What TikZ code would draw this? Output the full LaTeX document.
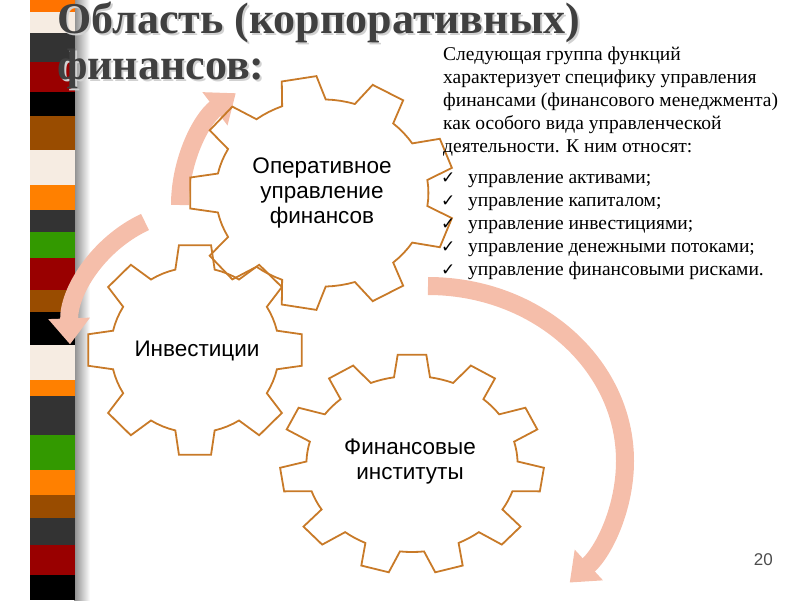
\documentclass[tikz,border=0pt]{standalone}
\usepackage{fontspec}
\setmainfont{Liberation Serif}
\newfontfamily\sansf{Liberation Sans}
\newfontfamily\dejavu{DejaVu Sans}
\usetikzlibrary{arrows.meta}
\definecolor{gearc}{RGB}{200,122,40}
\definecolor{arr}{RGB}{245,190,170}
\definecolor{titc}{RGB}{64,64,64}
\tikzset{gearline/.style={draw=gearc,line width=1.8pt,line join=miter},
 bigarrow/.style={draw=arr,line width=18pt,-{Triangle[width=40pt,length=26pt]}},
 geartext/.style={font=\sansf\fontsize{22.5}{25}\selectfont,align=center},
 bodytext/.style={font=\fontsize{19.5}{23}\selectfont,align=left,anchor=north west,inner sep=0pt}}
\newcommand\mygear[7]{%
 \begin{scope}[shift={(#1,#2)}]
 \pgfmathsetmacro\pp{360/#5}
 \draw[gearline] ({#6-0.3*\pp}:{#7*#3 pt} and {#7*#4 pt})
 \foreach \i in {1,...,#5}{
   -- ({#6+(\i-1)*\pp-0.3*\pp}:{#7*#3 pt} and {#7*#4 pt})
   -- ({#6+(\i-1)*\pp-0.19*\pp}:{#3 pt} and {#4 pt})
   -- ({#6+(\i-1)*\pp+0.19*\pp}:{#3 pt} and {#4 pt})
   -- ({#6+(\i-1)*\pp+0.3*\pp}:{#7*#3 pt} and {#7*#4 pt})
   -- ({#6+(\i-1)*\pp+0.4*\pp}:{#7*#3 pt} and {#7*#4 pt})
   -- ({#6+(\i-1)*\pp+0.5*\pp}:{#7*#3 pt} and {#7*#4 pt})
   -- ({#6+(\i-1)*\pp+0.6*\pp}:{#7*#3 pt} and {#7*#4 pt})
 } -- cycle;
 \end{scope}}
\begin{document}
\begin{tikzpicture}[x=1pt,y=-1pt]
\useasboundingbox (0,0) rectangle (800,600);
% stripe
\shade[left color=black!45,right color=white] (74,0) rectangle (90,600);
\foreach \a/\b/\c in {0/12/{orange!90!red},12/33/{white!85!brown},33/62/{black!80},62/92/{red!60!black},92/116/black,116/150/{orange!60!black},150/185/{white!85!brown},185/210/orange,210/232/{black!80},232/258/{green!50!black!80!yellow},258/290/{red!60!black},290/312/{orange!60!black},312/345/black,345/380/{white!85!brown},380/396/orange,396/435/{black!80},435/470/{green!50!black!80!yellow},470/495/orange,495/518/{orange!60!black},518/545/{black!80},545/575/{red!60!black},575/600/black}
  \fill[\c] (30,\a) rectangle (75,\b);
% title
\node[anchor=base west,inner sep=0pt,text=black!18,font=\bfseries\fontsize{44}{50}\selectfont] (tsh) at (59,35) {Область (корпоративных)};
\node[anchor=base west,inner sep=0pt,text=titc,font=\bfseries\fontsize{44}{50}\selectfont] (t1) at (57,33) {Область (корпоративных)};
\node[anchor=base west,inner sep=0pt,text=black!18,font=\bfseries\fontsize{44}{50}\selectfont] (tsh2) at (59,81) {финансов:};
\node[anchor=base west,inner sep=0pt,text=titc,font=\bfseries\fontsize{44}{50}\selectfont] (t2) at (57,79) {финансов:};
% arrows
\draw[bigarrow] (180,205) arc[start angle=180,end angle=127,radius=140pt];
\draw[bigarrow] (145,222) arc[start angle=115,end angle=182,radius=130pt];
\draw[bigarrow] (428,286) arc[start angle=90,end angle=-44,x radius=197pt,y radius=175pt];
% gears
\mygear{322}{193}{133}{117}{9}{100}{0.8}
\mygear{195}{350}{108}{106}{8}{90}{0.78}
\mygear{412}{464}{132}{110}{11}{90}{0.8}
\node[geartext] (g1) at (322,193) {Оперативное\\управление\\финансов};
\node[geartext] (g2) at (197,351) {Инвестиции};
\node[geartext] (g3) at (410,462) {Финансовые\\институты};
% text
\node[bodytext] (txt) at (443,47) {Следующая группа функций\\характеризует специфику управления\\финансами (финансового менеджмента)\\как особого вида управленческой\\деятельности. К ним относят:};
\foreach \y/\s [count=\k] in {183/управление активами;,206/управление капиталом;,229/управление инвестициями;,252/управление денежными потоками;,275/управление финансовыми рисками.}{
  \node[anchor=base west,inner sep=0pt,font=\dejavu\fontsize{17}{19}\selectfont] (ck\k) at (441,\y) {✓};
  \node[anchor=base west,inner sep=0pt,font=\fontsize{19.5}{22}\selectfont] (it\k) at (468,\y) {\s};
}
\node[anchor=base east,inner sep=0pt,text=black!70,font=\sansf\fontsize{17}{20}\selectfont] (num) at (773,565) {20};
\end{tikzpicture}
\end{document}
